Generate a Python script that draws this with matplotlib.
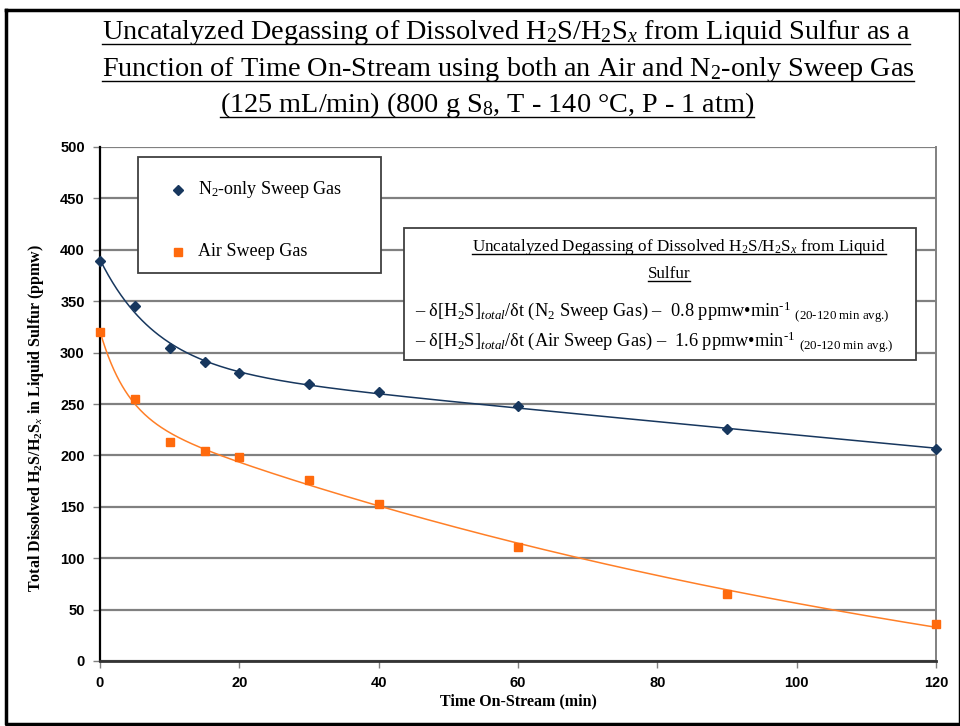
import matplotlib.pyplot as plt
import numpy as np
from matplotlib.lines import Line2D
from matplotlib.patches import Rectangle

plt.rcParams['mathtext.fontset'] = 'custom'
plt.rcParams['mathtext.rm'] = 'Liberation Serif'
plt.rcParams['mathtext.it'] = 'Liberation Serif:italic'
plt.rcParams['mathtext.bf'] = 'Liberation Serif:bold'

# data (time in min, ppmw)
time_min = np.array([0, 5, 10, 15, 20, 30, 40, 60, 90, 120])
n2_sweep = np.array([389, 345, 304, 291, 280, 269, 262, 248, 226, 206])
air_sweep = np.array([320, 255, 213, 204, 198, 176, 153, 111, 65, 36])

series_labels = ['N$_2$-only Sweep Gas', 'Air Sweep Gas']
x_ticks = [0, 20, 40, 60, 80, 100, 120]
y_ticks = [0, 50, 100, 150, 200, 250, 300, 350, 400, 450, 500]

blue = '#17375E'
orange = '#FF6A0D'
orange_line = '#FF7F27'


def fit_trend(t, y):
    # least-squares fit of a + b*exp(-t/tau1) + c*exp(-t/tau2)
    best = None
    for tau1 in np.geomspace(0.3, 30, 50):
        for tau2 in np.geomspace(5, 2000, 50):
            if tau2 <= tau1 * 1.5:
                continue
            A = np.column_stack([np.ones_like(t, dtype=float), np.exp(-t / tau1), np.exp(-t / tau2)])
            coef, *_ = np.linalg.lstsq(A, y, rcond=None)
            err = ((A @ coef - y) ** 2).sum()
            if best is None or err < best[0]:
                best = (err, tau1, tau2, coef)
    _, tau1, tau2, coef = best
    return lambda tt: coef[0] + coef[1] * np.exp(-tt / tau1) + coef[2] * np.exp(-tt / tau2)


W, H = 960, 726
fig = plt.figure(figsize=(9.6, 7.26), dpi=100)
ax = fig.add_axes([100 / W, 1 - 661 / H, 836 / W, 514 / H])

tt = np.linspace(0, 120, 600)
ax.plot(tt, fit_trend(time_min, n2_sweep)(tt), color=blue, lw=1.1, zorder=3)
ax.plot(tt, fit_trend(time_min, air_sweep)(tt), color=orange_line, lw=1.1, zorder=3)
ax.plot(time_min, n2_sweep, 'D', color=blue, ms=5, ls='none', zorder=4, clip_on=False)
ax.plot(time_min, air_sweep, 's', color=orange, ms=5.5, ls='none', zorder=4, clip_on=False)

ax.set_xlim(0, 120)
ax.set_ylim(0, 500)
ax.set_xticks(x_ticks)
ax.set_yticks(y_ticks)
ax.grid(axis='y', color='#808080', lw=1.6)
ax.set_axisbelow(True)
ax.spines['top'].set_visible(False)
ax.spines['right'].set_color('#808080')
ax.spines['right'].set_linewidth(1.4)
ax.spines['left'].set_color('black')
ax.spines['left'].set_linewidth(1.6)
ax.spines['bottom'].set_color('#333333')
ax.spines['bottom'].set_linewidth(2)
ax.tick_params(direction='out', length=5, width=1, color='#808080', pad=6)
for lab in ax.get_xticklabels() + ax.get_yticklabels():
    lab.set_fontfamily('Liberation Sans')
    lab.set_fontweight('bold')
    lab.set_fontsize(10.5)

ax.set_xlabel('Time On-Stream (min)', family='Liberation Serif', weight='bold', fontsize=11.5, labelpad=2)
ax.set_ylabel(r'Total Dissolved H$_\mathbf{2}$S/H$_\mathbf{2}$S$_x$ in Liquid Sulfur (ppmw)',
              family='Liberation Serif', weight='bold', fontsize=11.5)
ax.yaxis.set_label_coords(-54 / 836, (661 - 418) / 514)

# legend box
ax.add_patch(Rectangle(((138 - 100) / 836, (661 - 273) / 514), 243 / 836, 116 / 514,
                       transform=ax.transAxes, facecolor='white', edgecolor='#404040', lw=1.3, zorder=5))
ax.plot([(178 - 100) / 836], [(661 - 190) / 514], 'D', color=blue, ms=5, transform=ax.transAxes, zorder=6)
ax.plot([(178 - 100) / 836], [(661 - 252) / 514], 's', color=orange, ms=5.5, transform=ax.transAxes, zorder=6)
for lab, yy in zip(series_labels, [190, 252]):
    ax.text((198 - 100) / 836, (661 - yy) / 514, lab, transform=ax.transAxes, family='Liberation Serif',
            fontsize=13, va='center', ha='left', zorder=6)

# rate box
ax.add_patch(Rectangle(((404 - 100) / 836, (661 - 360) / 514), 512 / 836, 132 / 514,
                       transform=ax.transAxes, facecolor='white', edgecolor='#404040', lw=1.3, zorder=5))

texts_ul = []


def ftext(x, y, s, **kw):
    return fig.text(x / W, 1 - y / H, s, **kw)


box_kw = dict(family='Liberation Serif', fontsize=12.3, ha='center', va='baseline', zorder=7)
texts_ul.append((ftext(679, 251, r'Uncatalyzed Degassing of Dissolved H$_2$S/H$_2$S$_x$ from Liquid', **box_kw), 3))
texts_ul.append((ftext(669, 278, 'Sulfur', **box_kw), 3))
rate_kw = dict(family='Liberation Serif', fontsize=13.2, ha='left', va='baseline', zorder=7)
sub = r' $_{\text{(20-120 min avg.)}}$'
ftext(415, 316, r'– δ[H$_2$S]$_{total}$/δt (N$_2$ Sweep Gas) –  0.8 ppmw•min$^{\text{-1}}$' + sub, **rate_kw)
ftext(415, 346, r'– δ[H$_2$S]$_{total}$/δt (Air Sweep Gas) –  1.6 ppmw•min$^{\text{-1}}$' + sub, **rate_kw)

# title
title_kw = dict(family='Liberation Serif', fontsize=20.3, ha='center', va='baseline')
title_lines = [r'Uncatalyzed Degassing of Dissolved H$_2$S/H$_2$S$_x$ from Liquid Sulfur as a',
               r'Function of Time On-Stream using both an Air and N$_2$-only Sweep Gas',
               r'(125 mL/min) (800 g S$_8$, T - 140 °C, P - 1 atm)']
for s, xc, yb in zip(title_lines, [506, 508, 487], [39, 76, 112]):
    texts_ul.append((ftext(xc, yb, s, **title_kw), 5))

# underline the title texts
fig.canvas.draw()
renderer = fig.canvas.get_renderer()
for t, off in texts_ul:
    bb = t.get_window_extent(renderer)
    xb, yb = t.get_position()
    y_pix = yb * H - off
    fig.add_artist(Line2D([bb.x0 / W, bb.x1 / W], [y_pix / H, y_pix / H], color='black', lw=1.0, zorder=8))

# outer frame
fig.add_artist(Line2D([6 / W, 1.0, 1.0, 6 / W, 6 / W], [1 - 10 / H, 1 - 10 / H, 2 / H, 2 / H, 1 - 10 / H],
                      color='black', lw=2.5))

fig.savefig('out.png', dpi=100)
